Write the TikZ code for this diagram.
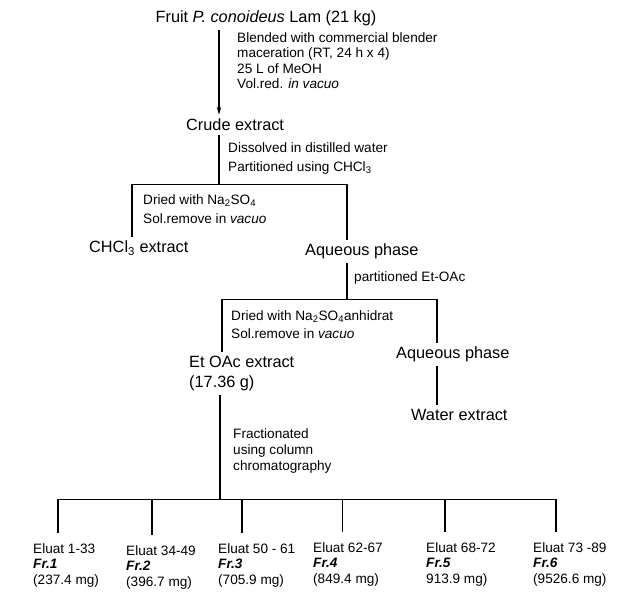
\documentclass[tikz,border=0pt]{standalone}
\usepackage{fontspec}
\setmainfont{Liberation Sans}
\usetikzlibrary{arrows.meta, positioning}

\begin{document}
\begin{tikzpicture}[x=1pt, y=-1pt,
  stage/.style={font=\fontsize{16.3}{20}\selectfont, align=left, inner xsep=0pt, inner ysep=4pt},
  note/.style={font=\fontsize{13.6}{15.6}\selectfont, align=left, inner sep=0pt, anchor=north west},
  fraction/.style={note, inner ysep=10pt},
  trunk/.style={line width=1.5pt},
  rail/.style={line width=0.9pt}]
\path[use as bounding box] (0,0) rectangle (632,608);

% starting material and maceration
\node[stage, anchor=base] (fruit) at (266,22.8) {Fruit \textit{P. conoideus} Lam (21 kg)};
\node[note] (macer) at (237,32) {Blended with commercial blender\\maceration (RT, 24 h x 4)\\25 L of MeOH\\Vol.red. \textit{in vacuo}};
\node[stage, anchor=base west] (crude) at (186,130.8) {Crude extract};
\coordinate (feed) at (219,0);
\draw[trunk, -{Stealth[length=8pt, width=4.5pt]}] (fruit.south -| feed) -- (crude.north -| feed);

% first partition
\node[note] (dissolve) at (228,142) {Dissolved in distilled water\\[3.4pt]Partitioned using CHCl\textsubscript{3}};
\coordinate (split1) at (219,184);
\coordinate (split1l) at (132,184);
\coordinate (split1r) at (347,184);
\draw[trunk] (crude.south -| split1) -- (split1);
\draw[rail] (split1l) -- (split1r);
\node[note] (dry1) at (143,194) {Dried with Na\textsubscript{2}SO\textsubscript{4}\\[3.4pt]Sol.remove in \textit{vacuo}};
\node[stage, anchor=base west] (chcl) at (89,252.8) {CHCl\textsubscript{3} extract};
\node[stage, anchor=base west] (aq1) at (305,255.8) {Aqueous phase};
\draw[trunk] (split1l) -- (split1l |- chcl.north);
\draw[trunk] (split1r) -- (split1r |- aq1.north);

% second partition
\node[note] (part2) at (354,271) {partitioned Et-OAc};
\coordinate (split2) at (347,299);
\coordinate (split2l) at (222,299);
\coordinate (split2r) at (437,299);
\draw[trunk] (aq1.south -| split2) -- (split2);
\draw[rail] (split2l) -- (split2r);
\node[note] (dry2) at (231,310) {Dried with Na\textsubscript{2}SO\textsubscript{4}anhidrat\\[2.4pt]Sol.remove in \textit{vacuo}};
\node[stage, anchor=north west] (etoac) at (189,352) {Et OAc extract\\(17.36 g)};
\node[stage, anchor=base west] (aq2) at (396,358.8) {Aqueous phase};
\node[stage, anchor=base west] (water) at (411,420.8) {Water extract};
\draw[trunk] (split2l) -- (split2l |- etoac.north);
\draw[trunk] (split2r) -- (split2r |- aq2.north);
\draw[trunk] (aq2.south -| split2r) -- (water.north -| split2r);

% column chromatography
\node[note] (column) at (233,428) {Fractionated\\[0.4pt]using column\\[0.4pt]chromatography};
\coordinate (split3) at (220,499);
\draw[trunk] (etoac.south -| split3) -- (split3);
\coordinate (drop1) at (58,499);
\coordinate (drop2) at (152,499);
\coordinate (drop3) at (242,499);
\coordinate (drop4) at (342,499);
\coordinate (drop5) at (445,499);
\coordinate (drop6) at (556,499);
\draw[rail] (drop1) -- (drop6);

\node[fraction] (fr1) at (33,533) {Eluat 1-33\\\textbf{\textit{Fr.1}}\\(237.4 mg)};
\node[fraction] (fr2) at (126,535) {Eluat 34-49\\\textbf{\textit{Fr.2}}\\(396.7 mg)};
\node[fraction] (fr3) at (218,533) {Eluat 50 - 61\\\textbf{\textit{Fr.3}}\\(705.9 mg)};
\node[fraction] (fr4) at (313,532) {Eluat 62-67\\\textbf{\textit{Fr.4}}\\(849.4 mg)};
\node[fraction] (fr5) at (426,532) {Eluat 68-72\\\textbf{\textit{Fr.5}}\\913.9 mg)};
\node[fraction] (fr6) at (533,532) {Eluat 73 -89\\\textbf{\textit{Fr.6}}\\(9526.6 mg)};
\draw[trunk] (drop1) -- (drop1 |- fr1.north);
\draw[trunk] (drop2) -- (drop2 |- fr2.north);
\draw[trunk] (drop3) -- (drop3 |- fr3.north);
\draw[rail] (drop4) -- (drop4 |- fr4.north);
\draw[trunk] (drop5) -- (drop5 |- fr5.north);
\draw[trunk] (drop6) -- (drop6 |- fr6.north);
\end{tikzpicture}
\end{document}
